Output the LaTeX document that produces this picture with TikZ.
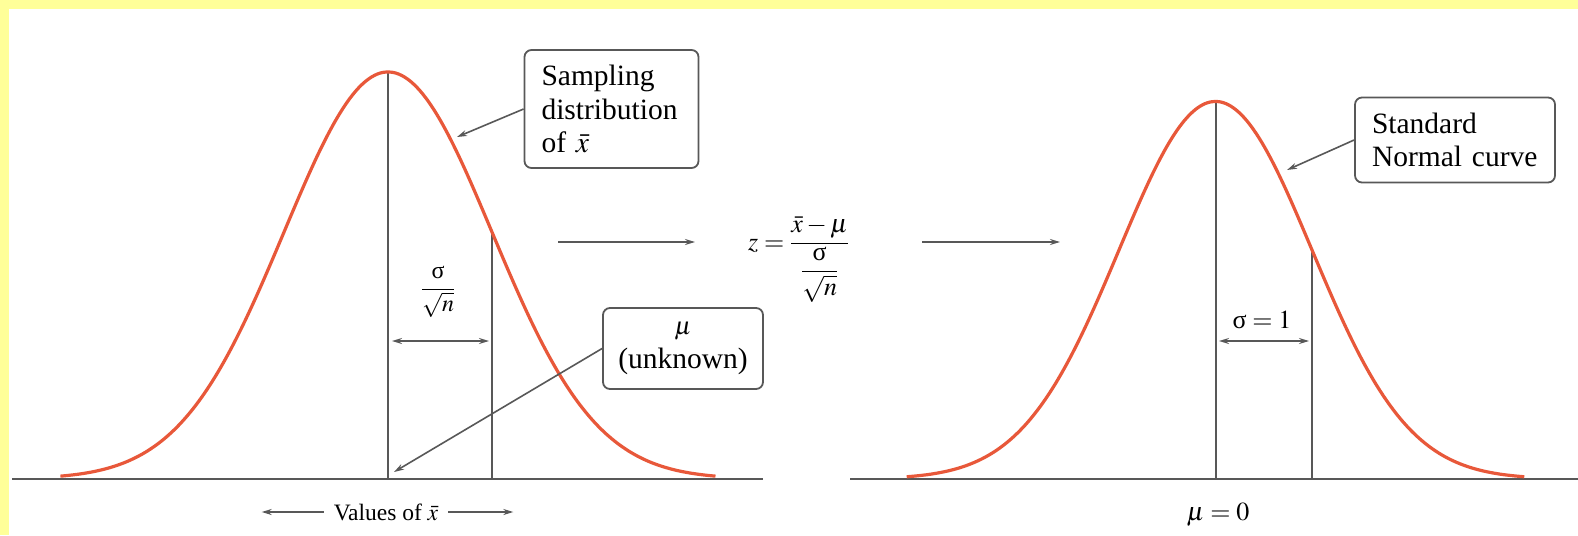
\documentclass[tikz,border=0pt]{standalone}
\usepackage{amsmath}
\usepackage{mathptmx}
\usepackage{fontspec}
\setmainfont{Liberation Serif}
\usetikzlibrary{arrows.meta}
\definecolor{curvec}{RGB}{232,88,58}
\definecolor{linec}{RGB}{88,88,88}
\definecolor{bgy}{RGB}{255,255,153}
\begin{document}
\begin{tikzpicture}[x=1pt,y=-1pt,
  ax/.style={draw=linec,line width=2pt},
  curve/.style={draw=curvec,line width=3.2pt},
  arr/.style={draw=linec,line width=1.6pt,-{Stealth[length=10pt,width=6pt]}},
  darr/.style={draw=linec,line width=1.6pt,{Stealth[length=10pt,width=6pt]}-{Stealth[length=10pt,width=6pt]}},
  lbox/.style={draw=linec,line width=1.8pt,rounded corners=7pt,fill=white},
  big/.style={font=\fontsize{29.5}{33.5}\selectfont},
  mid/.style={font=\fontsize{26}{30}\selectfont},
  small/.style={font=\fontsize{23.5}{28}\selectfont}]
\fill[bgy] (0,0) rectangle (1578,535);
\fill[white] (9,9) rectangle (1578,535);
\useasboundingbox (0,0) rectangle (1578,535);

% axes and verticals
\draw[ax] (12,479) -- (763,479);
\draw[ax] (850,479) -- (1578,479);
\draw[ax] (388,479) -- (388,72);
\draw[ax] (492,479) -- (492,{479-407*0.6065});
\draw[ax] (1215.5,479) -- (1215.5,101.5);
\draw[ax] (1312,479) -- (1312,{479-377.5*0.6065});

% curves
\draw[curve] plot[domain=-3.15:3.15,samples=121,smooth] ({388+104*\x},{479-407*exp(-0.5*(\x)*(\x))});
\draw[curve] plot[domain=-3.2:3.2,samples=121,smooth] ({1215.5+96.5*\x},{479-377.5*exp(-0.5*(\x)*(\x))});

% sigma spans
\coordinate (d1a) at (392,341);
\coordinate (d1b) at (489,341);
\draw[darr] (d1a) -- (d1b);
\coordinate (d2a) at (1219,341);
\coordinate (d2b) at (1309,341);
\draw[darr] (d2a) -- (d2b);
\node[font=\fontsize{24}{28}\selectfont] (sl) at (438,292) {$\dfrac{\text{σ}}{\sqrt{n}}$};
\node[mid] (s1) at (1262,320) {$\text{σ}=1$};

% boxes
\node[lbox,big,align=left,text width=140pt,inner xsep=17pt,minimum height=118pt] (box1) at (611.5,109) {Sampling\\distribution\\of $\bar{x}$};
\node[lbox,big,align=center,minimum width=160pt,minimum height=81pt] (box2) at (683,348.5) {{\fontsize{25}{30}\selectfont$\mu$}\\(unknown)};
\node[lbox,big,align=left,text width=166pt,inner xsep=17pt,minimum height=85pt] (box3) at (1455,140) {Standard\\Normal curve};

\coordinate (t1) at (457,137);
\coordinate (t2) at (394,472);
\coordinate (t3) at (1287,170);
\draw[arr] (box1.west) -- (t1);
\draw[arr] (box2.west) -- (t2);
\draw[arr] (box3.west) -- (t3);

% transformation
\coordinate (m1s) at (558,242);
\coordinate (m1e) at (695,242);
\coordinate (m2s) at (922,242);
\coordinate (m2e) at (1060,242);
\draw[arr] (m1s) -- (m1e);
\draw[arr] (m2s) -- (m2e);
\node[mid,anchor=base west,inner sep=0pt] (zf) at (748,250) {$z=\dfrac{\bar{x}-\mu}{\dfrac{\text{σ}}{\sqrt{n}}}$};

% bottom labels
\node[small,inner xsep=10pt] (vals) at (386,512) {Values of $\bar{x}$};
\coordinate (vl) at (261.7,512);
\coordinate (vr) at (513.3,512);
\draw[arr] (vals.west) -- (vl);
\draw[arr] (vals.east) -- (vr);
\node[mid] (m0) at (1218,515) {$\mu=0$};
\end{tikzpicture}
\end{document}
